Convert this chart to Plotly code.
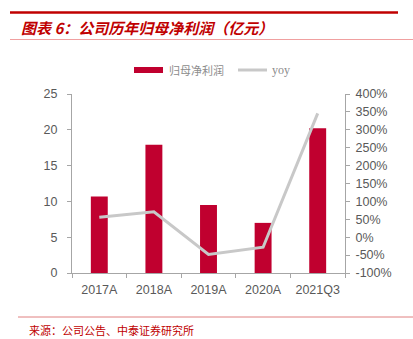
import plotly.graph_objects as go

categories = ["2017A", "2018A", "2019A", "2020A", "2021Q3"]
net_profit = [10.7, 17.9, 9.5, 7.0, 20.2]
yoy = [56, 71, -48, -28, 346]
left_ticks = [0, 5, 10, 15, 20, 25]
right_ticks = [-100, -50, 0, 50, 100, 150, 200, 250, 300, 350, 400]
right_labels = [f"{v}%" for v in right_ticks]

BAR = "#C0002F"
LINE = "#C8C8C8"
AX = "#A6A6A6"
TXT = "#595959"
RED = "#C00000"

fig = go.Figure()
fig.add_trace(go.Bar(x=categories, y=net_profit, name="归母净利润",
                     marker=dict(color=BAR, line=dict(width=0)), width=0.31,
                     showlegend=False))
fig.add_trace(go.Scatter(x=categories, y=yoy, name="yoy", yaxis="y2", mode="lines",
                         line=dict(color=LINE, width=3), showlegend=False))

W, H = 413, 339
L, R, T, B = 72, 68, 94, 66

def px(x):
    return (x - L) / (W - L - R)

def py(y):
    return (H - B - y) / (H - T - B)

fig.update_layout(
    width=W, height=H,
    margin=dict(l=L, r=R, t=T, b=B),
    paper_bgcolor="white", plot_bgcolor="white",
    font=dict(family="Liberation Sans, Arial", size=12, color=TXT),
    bargap=0.69,
    xaxis=dict(type="category", showline=True, linecolor=AX, linewidth=1,
               ticks="outside", tickson="boundaries", ticklen=4, tickcolor=AX,
               showgrid=False, ticklabelstandoff=5, tickfont=dict(size=12.5, color=TXT)),
    yaxis=dict(range=[0, 25], tickvals=left_ticks, showline=True, linecolor=AX,
               ticks="outside", ticklen=4, tickcolor=AX, showgrid=False,
               zeroline=False, ticklabelstandoff=7, tickfont=dict(size=12.5, color=TXT)),
    yaxis2=dict(range=[-100, 400], tickvals=right_ticks, ticktext=right_labels,
                overlaying="y", side="right", showline=True, linecolor=AX,
                ticks="outside", ticklen=4, tickcolor=AX, showgrid=False,
                zeroline=False, ticklabelstandoff=3, tickfont=dict(size=12.5, color=TXT)),
    showlegend=False,
)

shapes = [
    dict(type="line", xref="paper", yref="paper", x0=px(10), x1=px(398), y0=py(12.5), y1=py(12.5),
         line=dict(color=RED, width=2.5)),
    dict(type="line", xref="paper", yref="paper", x0=px(10), x1=px(413), y0=py(39.5), y1=py(39.5),
         line=dict(color="#F0A0A0", width=1)),
    dict(type="line", xref="paper", yref="paper", x0=px(18), x1=px(413), y0=py(317), y1=py(317),
         line=dict(color="#E08080", width=1)),
    # legend symbols
    dict(type="rect", xref="paper", yref="paper", x0=px(134), x1=px(163), y0=py(67), y1=py(73),
         fillcolor=BAR, line=dict(width=0)),
    dict(type="line", xref="paper", yref="paper", x0=px(238), x1=px(267), y0=py(70), y1=py(70),
         line=dict(color=LINE, width=3)),
]
fig.update_layout(shapes=shapes)

annotations = [
    dict(text="<b><i>图表 6：公司历年归母净利润（亿元）</i></b>", xref="paper", yref="paper",
         x=px(19), y=py(27), xanchor="left", yanchor="middle", showarrow=False,
         font=dict(family="Noto Sans CJK SC", size=15, color=RED)),
    dict(text="归母净利润", xref="paper", yref="paper", x=px(167), y=py(70),
         xanchor="left", yanchor="middle", showarrow=False,
         font=dict(family="Noto Sans CJK SC", size=11, color="#8C8C8C")),
    dict(text="yoy", xref="paper", yref="paper", x=px(270), y=py(70),
         xanchor="left", yanchor="middle", showarrow=False,
         font=dict(family="Liberation Serif", size=12, color="#8C8C8C")),
    dict(text="来源：公司公告、中泰证券研究所", xref="paper", yref="paper", x=px(27), y=py(330),
         xanchor="left", yanchor="middle", showarrow=False,
         font=dict(family="Noto Sans CJK SC", size=11, color=RED)),
]
fig.update_layout(annotations=annotations)

fig.write_html("out.html")
